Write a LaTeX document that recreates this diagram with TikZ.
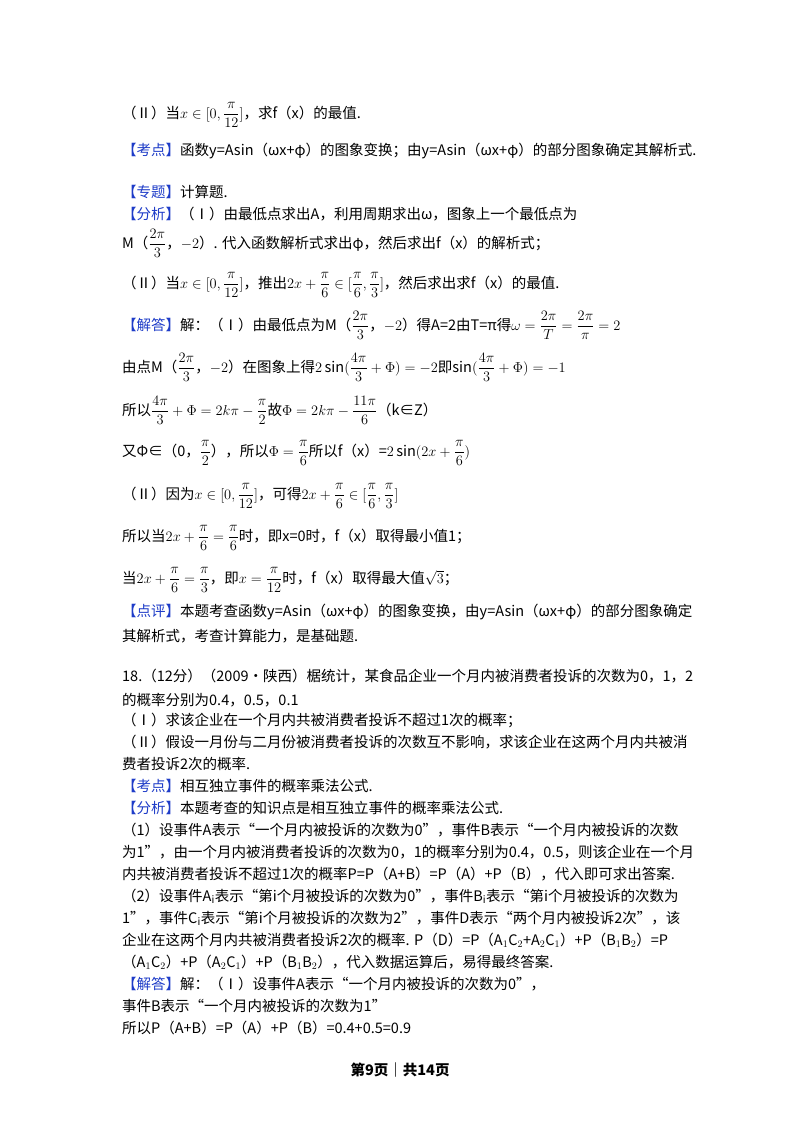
\documentclass[tikz,border=0pt]{standalone}
\usepackage{amsmath}
\usepackage{fontspec}
\setmainfont{Noto Sans CJK SC}
\definecolor{kb}{RGB}{30,60,200}
\newcommand{\kd}[1]{{\color{kb}【#1】}}
\begin{document}
\begin{tikzpicture}[x=1pt,y=1pt,ln/.style={anchor=base west,inner sep=0pt,font=\fontsize{14.5}{17}\selectfont}]
\useasboundingbox (0,0) rectangle (800,-1132);
\fill[white] (0,0) rectangle (800,-1132);
\node[ln] (a1) at (122,-118) {（Ⅱ）当$x\in[0,\dfrac{\pi}{12}]$，求f（x）的最值.};
\node[ln] (a2) at (122,-155) {\kd{考点}函数y=Asin（ωx+φ）的图象变换；由y=Asin（ωx+φ）的部分图象确定其解析式.};
\node[ln] (a3) at (122,-197) {\kd{专题}计算题.};
\node[ln] (a4) at (122,-219) {\kd{分析}（Ⅰ）由最低点求出A，利用周期求出ω，图象上一个最低点为};
\node[ln] (a5) at (122,-248) {M（$\dfrac{2\pi}{3}$，$-2$）. 代入函数解析式求出φ，然后求出f（x）的解析式；};
\node[ln] (a6) at (122,-288) {（Ⅱ）当$x\in[0,\dfrac{\pi}{12}]$，推出$2x+\dfrac{\pi}{6}\in[\dfrac{\pi}{6},\dfrac{\pi}{3}]$，然后求出求f（x）的最值.};
\node[ln] (a7) at (122,-330) {\kd{解答}解：（Ⅰ）由最低点为M（$\dfrac{2\pi}{3}$，$-2$）得A=2由T=π得$\omega=\dfrac{2\pi}{T}=\dfrac{2\pi}{\pi}=2$};
\node[ln] (a8) at (122,-372) {由点M（$\dfrac{2\pi}{3}$，$-2$）在图象上得$2\sin(\dfrac{4\pi}{3}+\Phi)=-2$即$\sin(\dfrac{4\pi}{3}+\Phi)=-1$};
\node[ln] (a9) at (122,-415) {所以$\dfrac{4\pi}{3}+\Phi=2k\pi-\dfrac{\pi}{2}$故$\Phi=2k\pi-\dfrac{11\pi}{6}$（k∈Z）};
\node[ln] (a10) at (122,-456) {又Φ∈（0，$\dfrac{\pi}{2}$），所以$\Phi=\dfrac{\pi}{6}$所以f（x）=$2\sin(2x+\dfrac{\pi}{6})$};
\node[ln] (a11) at (122,-499) {（Ⅱ）因为$x\in[0,\dfrac{\pi}{12}]$，可得$2x+\dfrac{\pi}{6}\in[\dfrac{\pi}{6},\dfrac{\pi}{3}]$};
\node[ln] (a12) at (122,-541) {所以当$2x+\dfrac{\pi}{6}=\dfrac{\pi}{6}$时，即x=0时，f（x）取得最小值1；};
\node[ln] (a13) at (122,-583) {当$2x+\dfrac{\pi}{6}=\dfrac{\pi}{3}$，即$x=\dfrac{\pi}{12}$时，f（x）取得最大值$\sqrt{3}$；};
\node[ln] (a14) at (122,-616) {\kd{点评}本题考查函数y=Asin（ωx+φ）的图象变换，由y=Asin（ωx+φ）的部分图象确定};
\node[ln] (a15) at (122,-641) {其解析式，考查计算能力，是基础题.};
\node[ln] (b1) at (122,-681) {18.（12分）（2009•陕西）椐统计，某食品企业一个月内被消费者投诉的次数为0，1，2};
\node[ln] (b2) at (122,-705) {的概率分别为0.4，0.5，0.1};
\node[ln] (b3) at (122,-725) {（Ⅰ）求该企业在一个月内共被消费者投诉不超过1次的概率；};
\node[ln] (b4) at (122,-747) {（Ⅱ）假设一月份与二月份被消费者投诉的次数互不影响，求该企业在这两个月内共被消};
\node[ln] (b5) at (122,-769) {费者投诉2次的概率.};
\node[ln] (b6) at (122,-791) {\kd{考点}相互独立事件的概率乘法公式.};
\node[ln] (b7) at (122,-813) {\kd{分析}本题考查的知识点是相互独立事件的概率乘法公式.};
\node[ln] (b8) at (122,-835) {（1）设事件A表示“一个月内被投诉的次数为0”，事件B表示“一个月内被投诉的次数};
\node[ln] (b9) at (122,-857) {为1”，由一个月内被消费者投诉的次数为0，1的概率分别为0.4，0.5，则该企业在一个月};
\node[ln] (b10) at (122,-879) {内共被消费者投诉不超过1次的概率P=P（A+B）=P（A）+P（B），代入即可求出答案.};
\node[ln] (b11) at (122,-901) {（2）设事件A$_{\mathrm{i}}$表示“第i个月被投诉的次数为0”，事件B$_{\mathrm{i}}$表示“第i个月被投诉的次数为};
\node[ln] (b12) at (122,-923) {1”，事件C$_{\mathrm{i}}$表示“第i个月被投诉的次数为2”，事件D表示“两个月内被投诉2次”，该};
\node[ln] (b13) at (122,-945) {企业在这两个月内共被消费者投诉2次的概率. P（D）=P（A$_1$C$_2$+A$_2$C$_1$）+P（B$_1$B$_2$）=P};
\node[ln] (b14) at (122,-967) {（A$_1$C$_2$）+P（A$_2$C$_1$）+P（B$_1$B$_2$），代入数据运算后，易得最终答案.};
\node[ln] (b15) at (122,-989) {\kd{解答}解：（Ⅰ）设事件A表示“一个月内被投诉的次数为0”，};
\node[ln] (b16) at (122,-1011) {事件B表示“一个月内被投诉的次数为1”};
\node[ln] (b17) at (122,-1033) {所以P（A+B）=P（A）+P（B）=0.4+0.5=0.9};
\node[anchor=base,inner sep=0pt,font=\fontsize{14.5}{17}\selectfont\bfseries] (ft) at (400,-1075) {第9页｜共14页};
\end{tikzpicture}
\end{document}
